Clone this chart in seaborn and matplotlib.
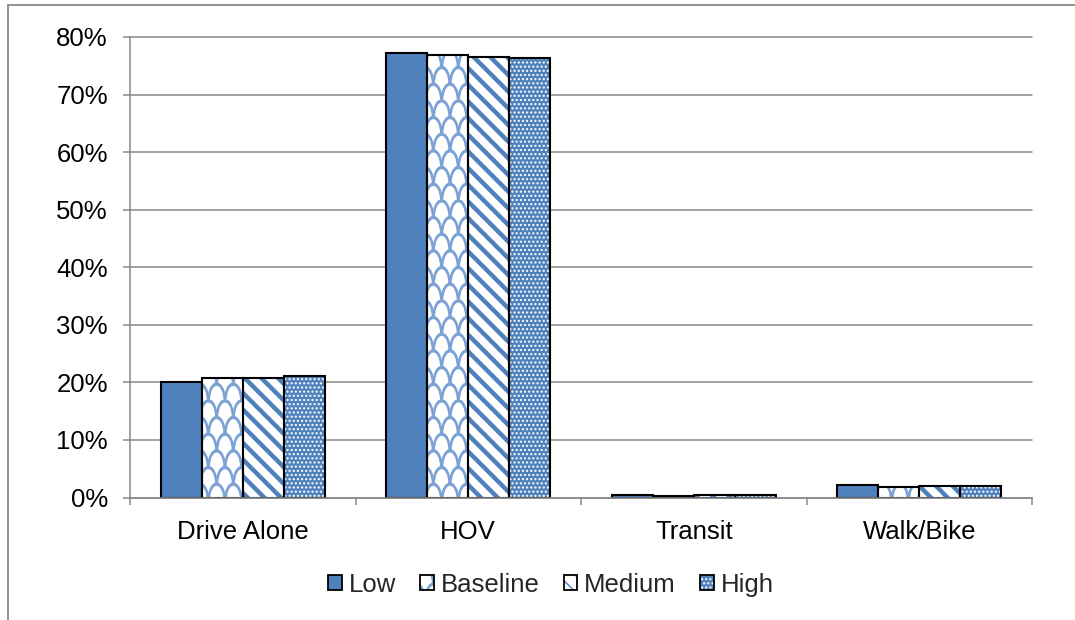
import warnings
import numpy as np
import matplotlib
matplotlib.use("Agg")
import matplotlib.pyplot as plt
import matplotlib.hatch as mhatch
from matplotlib.path import Path
from matplotlib.patches import Rectangle, Patch
from matplotlib.legend_handler import HandlerTuple
from matplotlib.ticker import PercentFormatter, FixedLocator
import seaborn as sns
import pandas as pd

warnings.filterwarnings("ignore")

# Mode share by scenario (percent)
categories = ["Drive Alone", "HOV", "Transit", "Walk/Bike"]
scenarios = ["Low", "Baseline", "Medium", "High"]
low = [20.0, 77.3, 0.4, 2.1]
baseline = [20.7, 76.9, 0.3, 1.9]
medium = [20.8, 76.6, 0.4, 2.0]
high = [21.1, 76.3, 0.4, 2.0]
y_ticks = [0, 10, 20, 30, 40, 50, 60, 70, 80]

series = {"Low": low, "Baseline": baseline, "Medium": medium, "High": high}
df = pd.DataFrame(
    [(c, s, v) for s in scenarios for c, v in zip(categories, series[s])],
    columns=["mode", "scenario", "share"],
)


# Interlocking "scale" hatch: staggered rows of tall domes
class ScaleHatch(mhatch.Shapes):
    size = 0.5
    filled = False

    def __init__(self, hatch, density):
        self.num_rows = hatch.count("S") * density
        self.shape_vertices = Path.arc(0, 180).vertices * np.array([1.0, 2.0])
        self.shape_codes = Path.arc(0, 180).codes
        super().__init__(hatch, density)


scale_ok = False
try:
    mhatch._hatch_types.append(ScaleHatch)
    mhatch.get_path("S")
    scale_ok = True
except Exception:
    if ScaleHatch in mhatch._hatch_types:
        mhatch._hatch_types.remove(ScaleHatch)

sns.set_theme(style="white")
plt.rcParams["font.family"] = ["Liberation Sans", "DejaVu Sans"]

BLUE = "#4F81BD"
LIGHT_BLUE = "#7CA2D5"
GRID = "#888888"
FS = 18.5

# Fill style for each scenario: face colour, hatch, hatch colour, hatch width
styles = {
    "Low": dict(face=BLUE, hatch=None, hcolor=BLUE, hlw=1.0),
    "Baseline": dict(face="white", hatch="S" if scale_ok else "O",
                     hcolor=LIGHT_BLUE, hlw=1.2),
    "Medium": dict(face="white", hatch="\\\\", hcolor=BLUE, hlw=3.2),
    "High": dict(face=BLUE, hatch="....", hcolor="white", hlw=1.0),
}

fig = plt.figure(figsize=(10.75, 6.2), dpi=100)
ax = fig.add_axes([130 / 1075, 1 - 497.5 / 620, 902 / 1075, 460.5 / 620])

sns.barplot(
    data=df, x="mode", y="share", hue="scenario",
    order=categories, hue_order=scenarios,
    width=0.727, ax=ax, legend=False, errorbar=None,
    saturation=1,
)


def style_patch(p, st):
    p.set_facecolor(st["face"])
    p.set_linewidth(0)
    if st["hatch"]:
        p.set_edgecolor(st["hcolor"])
        p.set_hatch(st["hatch"])
        if hasattr(p, "set_hatch_linewidth"):
            p.set_hatch_linewidth(st["hlw"])
        else:
            p._hatch_linewidth = st["hlw"]
    else:
        p.set_edgecolor(st["face"])


for name, container in zip(scenarios, ax.containers):
    st = styles[name]
    for bar in container:
        style_patch(bar, st)
        # black outline drawn on top so the hatch keeps its own colour
        ax.add_patch(Rectangle(
            (bar.get_x(), bar.get_y()), bar.get_width(), bar.get_height(),
            fill=False, edgecolor="black", linewidth=1.5, zorder=bar.get_zorder() + 0.1,
        ))

# Axes styling
ax.set_xlim(-0.5, len(categories) - 0.5)
ax.set_ylim(0, 80)
ax.yaxis.set_major_locator(FixedLocator(y_ticks))
ax.yaxis.set_major_formatter(PercentFormatter(xmax=100, decimals=0))
ax.set_xlabel("")
ax.set_ylabel("")
ax.grid(axis="y", color=GRID, linewidth=1.1)
ax.set_axisbelow(True)
for gl in ax.get_ygridlines():
    gl.set_clip_on(False)

for side in ["top", "right"]:
    ax.spines[side].set_visible(False)
for side in ["left", "bottom"]:
    ax.spines[side].set_color(GRID)
    ax.spines[side].set_linewidth(1.1)

ax.tick_params(axis="y", which="major", length=5, width=1.1, color=GRID,
               direction="out", pad=11, labelsize=FS, labelcolor="black", left=True)
ax.tick_params(axis="x", which="major", length=0, pad=16, labelsize=FS, labelcolor="black")
ax.set_xticks([i - 0.5 for i in range(len(categories) + 1)], minor=True)
ax.tick_params(axis="x", which="minor", length=5, width=1.1, color=GRID,
               direction="out", bottom=True)

# Legend: hatched swatch with a black outline on top
handles = []
for name in scenarios:
    st = styles[name]
    swatch = Patch(label=name)
    style_patch(swatch, st)
    outline = Patch(fill=False, edgecolor="black", linewidth=1.3)
    handles.append((swatch, outline))
leg = fig.legend(
    handles=handles, labels=scenarios, handler_map={tuple: HandlerTuple(ndivide=1, pad=0)},
    loc="center", bbox_to_anchor=(551 / 1075, 1 - 585 / 620),
    ncol=4, frameon=False, fontsize=FS, handlelength=0.52, handleheight=0.52,
    handletextpad=0.27, columnspacing=0.95, borderaxespad=0, borderpad=0,
)

# Chart frame (runs past the right and bottom edges)
fig.patches.append(Rectangle(
    (8 / 1075, -0.05), 1.1, (620 - 5) / 620 + 0.05,
    transform=fig.transFigure, fill=False, edgecolor="#8a8a8a", linewidth=1.3,
))

fig.savefig("out.png", dpi=100)
